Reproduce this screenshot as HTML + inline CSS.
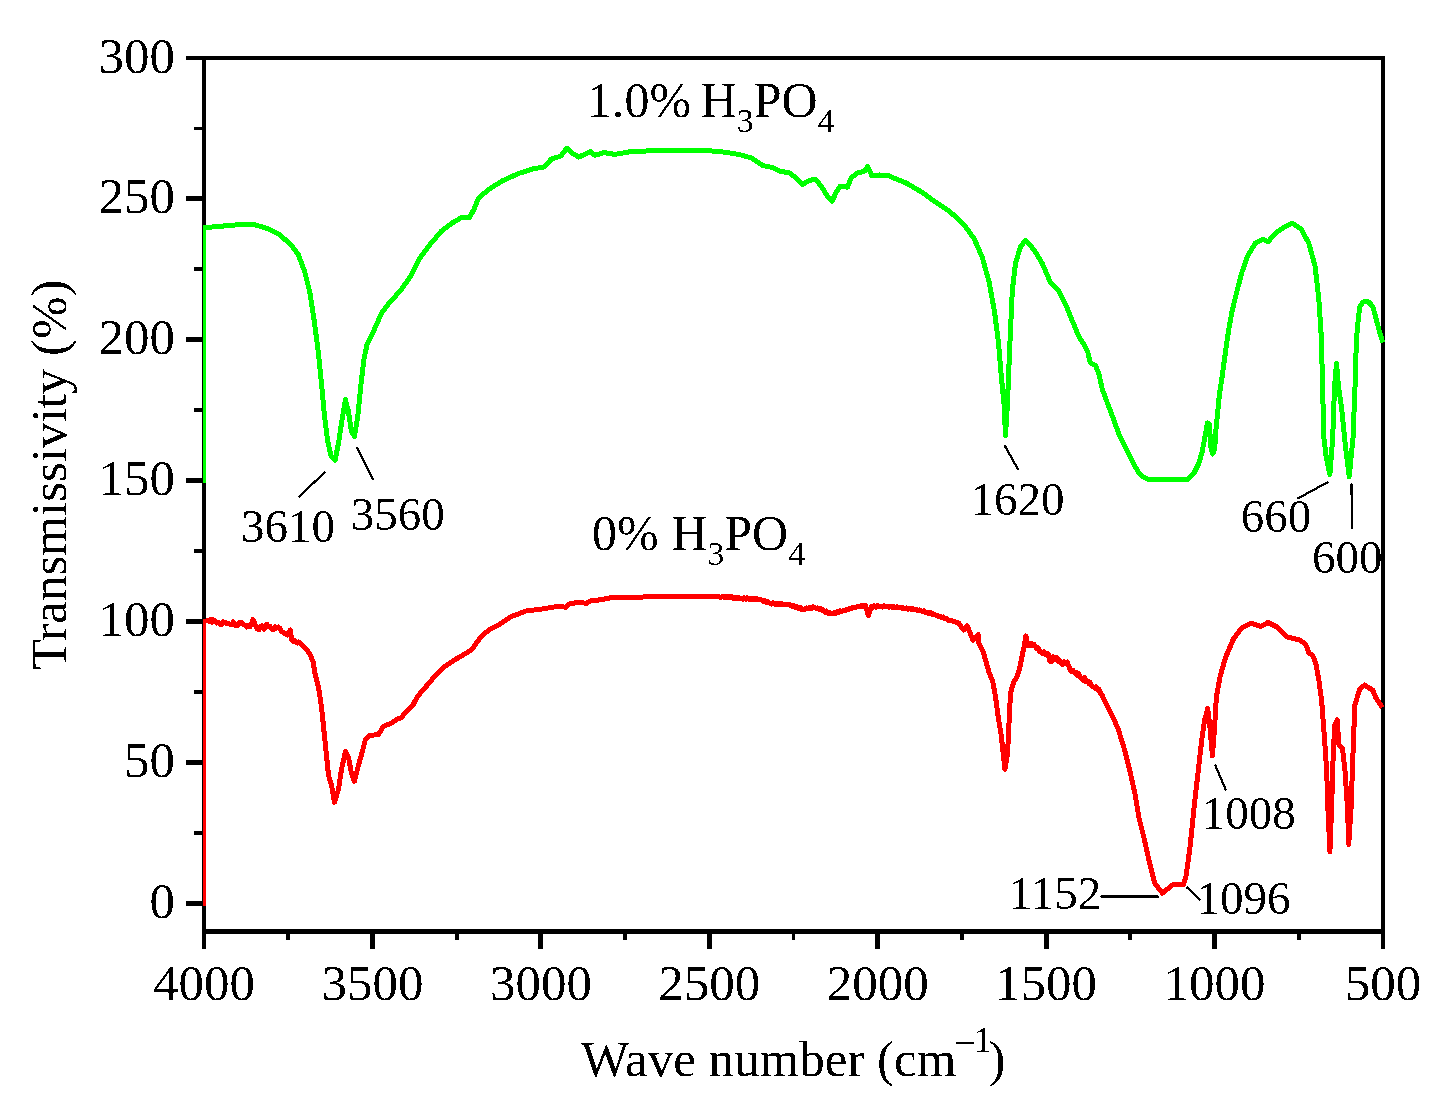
<!DOCTYPE html>
<html><head><meta charset="utf-8"><style>
html,body{margin:0;padding:0;background:#fff;}
svg{display:block;}
text{font-family:"Liberation Serif",serif;fill:#000;}
.t50{font-size:51px;}
.t50l{font-size:50px;}
.t46{font-size:47px;}
</style></head><body>
<svg width="1440" height="1104" viewBox="0 0 1440 1104">
<defs><filter id="bin" x="0" y="0" width="100%" height="100%" filterUnits="userSpaceOnUse"><feComponentTransfer><feFuncA type="discrete" tableValues="0 1"/></feComponentTransfer></filter></defs><g filter="url(#bin)"><rect x="204" y="58" width="1179" height="873" fill="none" stroke="#000" stroke-width="4"/><line x1="202" y1="931.5" x2="1385" y2="931.5" stroke="#000" stroke-width="5"/><line x1="186" y1="903.5" x2="204" y2="903.5" stroke="#000" stroke-width="5"/><text x="175" y="918.0" text-anchor="end" class="t50">0</text><line x1="186" y1="762.6" x2="204" y2="762.6" stroke="#000" stroke-width="5"/><text x="175" y="777.1" text-anchor="end" class="t50">50</text><line x1="186" y1="621.7" x2="204" y2="621.7" stroke="#000" stroke-width="5"/><text x="175" y="636.2" text-anchor="end" class="t50">100</text><line x1="186" y1="480.8" x2="204" y2="480.8" stroke="#000" stroke-width="5"/><text x="175" y="495.3" text-anchor="end" class="t50">150</text><line x1="186" y1="339.8" x2="204" y2="339.8" stroke="#000" stroke-width="5"/><text x="175" y="354.3" text-anchor="end" class="t50">200</text><line x1="186" y1="198.9" x2="204" y2="198.9" stroke="#000" stroke-width="5"/><text x="175" y="213.4" text-anchor="end" class="t50">250</text><line x1="186" y1="58.0" x2="204" y2="58.0" stroke="#000" stroke-width="5"/><text x="175" y="72.5" text-anchor="end" class="t50">300</text><line x1="194" y1="833.0" x2="204" y2="833.0" stroke="#000" stroke-width="4"/><line x1="194" y1="692.1" x2="204" y2="692.1" stroke="#000" stroke-width="4"/><line x1="194" y1="551.2" x2="204" y2="551.2" stroke="#000" stroke-width="4"/><line x1="194" y1="410.3" x2="204" y2="410.3" stroke="#000" stroke-width="4"/><line x1="194" y1="269.4" x2="204" y2="269.4" stroke="#000" stroke-width="4"/><line x1="194" y1="128.5" x2="204" y2="128.5" stroke="#000" stroke-width="4"/><line x1="204.0" y1="931" x2="204.0" y2="949" stroke="#000" stroke-width="5"/><text x="204.0" y="1000" text-anchor="middle" class="t50">4000</text><line x1="372.4" y1="931" x2="372.4" y2="949" stroke="#000" stroke-width="5"/><text x="372.4" y="1000" text-anchor="middle" class="t50">3500</text><line x1="540.9" y1="931" x2="540.9" y2="949" stroke="#000" stroke-width="5"/><text x="540.9" y="1000" text-anchor="middle" class="t50">3000</text><line x1="709.3" y1="931" x2="709.3" y2="949" stroke="#000" stroke-width="5"/><text x="709.3" y="1000" text-anchor="middle" class="t50">2500</text><line x1="877.7" y1="931" x2="877.7" y2="949" stroke="#000" stroke-width="5"/><text x="877.7" y="1000" text-anchor="middle" class="t50">2000</text><line x1="1046.1" y1="931" x2="1046.1" y2="949" stroke="#000" stroke-width="5"/><text x="1046.1" y="1000" text-anchor="middle" class="t50">1500</text><line x1="1214.6" y1="931" x2="1214.6" y2="949" stroke="#000" stroke-width="5"/><text x="1214.6" y="1000" text-anchor="middle" class="t50">1000</text><line x1="1383.0" y1="931" x2="1383.0" y2="949" stroke="#000" stroke-width="5"/><text x="1383.0" y="1000" text-anchor="middle" class="t50">500</text><line x1="288.2" y1="931" x2="288.2" y2="940" stroke="#000" stroke-width="4"/><line x1="456.6" y1="931" x2="456.6" y2="940" stroke="#000" stroke-width="4"/><line x1="625.1" y1="931" x2="625.1" y2="940" stroke="#000" stroke-width="4"/><line x1="793.5" y1="931" x2="793.5" y2="940" stroke="#000" stroke-width="4"/><line x1="961.9" y1="931" x2="961.9" y2="940" stroke="#000" stroke-width="4"/><line x1="1130.4" y1="931" x2="1130.4" y2="940" stroke="#000" stroke-width="4"/><line x1="1298.8" y1="931" x2="1298.8" y2="940" stroke="#000" stroke-width="4"/><text x="581" y="1075.5" class="t50">Wave number (cm<tspan dy="-24" font-size="35">&#8211;1</tspan><tspan dy="24" dx="-3">)</tspan></text><text transform="translate(66,670) rotate(-90)" class="t50">Transmissivity (%)</text><text x="587" y="117" class="t50l">1.0%<tspan dx="-3"> H</tspan><tspan dy="15" font-size="34">3</tspan><tspan dy="-15">PO</tspan><tspan dy="15" font-size="34">4</tspan></text><text x="592" y="550" class="t50l">0% H<tspan dy="15" font-size="34">3</tspan><tspan dy="-15">PO</tspan><tspan dy="15" font-size="34">4</tspan></text><text x="241" y="541.5" class="t46">3610</text><text x="350.7" y="530" class="t46">3560</text><text x="970.5" y="515" class="t46">1620</text><text x="1240.7" y="532" class="t46">660</text><text x="1312" y="572.5" class="t46">600</text><text x="1201.8" y="829" class="t46">1008</text><text x="1009" y="909" class="t46">1152</text><text x="1196.5" y="914" class="t46">1096</text><line x1="298.4" y1="497.2" x2="325.5" y2="471.6" stroke="#000" stroke-width="2.2"/><line x1="356.8" y1="447.3" x2="373.3" y2="480.1" stroke="#000" stroke-width="2.2"/><line x1="1004.6" y1="445.4" x2="1018.2" y2="469.8" stroke="#000" stroke-width="2.2"/><line x1="1297.3" y1="498.7" x2="1328.5" y2="481.7" stroke="#000" stroke-width="2.2"/><line x1="1351.5" y1="483.5" x2="1352" y2="528.6" stroke="#000" stroke-width="2.2"/><line x1="1215" y1="764.6" x2="1226" y2="790.4" stroke="#000" stroke-width="2.2"/><line x1="1100.4" y1="896.7" x2="1158.75" y2="896.7" stroke="#000" stroke-width="2.2"/><line x1="1186.5" y1="886.9" x2="1200.4" y2="900.4" stroke="#000" stroke-width="2.2"/></g>
<clipPath id="pc"><rect x="203" y="0" width="1182" height="1104"/></clipPath><path clip-path="url(#pc)" d="M203.3,906.0 L203.3,621.2 L208.3,620.8 L209.6,621.4 L211.0,619.4 L212.3,622.1 L213.7,620.0 L215.0,620.8 L216.7,623.0 L218.3,622.1 L220.0,624.2 L221.7,624.8 L223.3,621.7 L225.0,622.5 L226.7,623.7 L228.3,623.1 L230.0,624.2 L231.7,624.4 L233.3,621.7 L235.8,625.8 L237.3,625.9 L238.8,622.8 L240.2,623.8 L241.7,622.5 L243.3,624.7 L245.0,625.0 L246.7,626.9 L248.3,625.4 L250.0,626.7 L251.4,624.7 L252.9,619.6 L255.0,624.2 L257.5,629.2 L258.9,629.6 L260.3,626.4 L261.7,625.8 L264.2,629.2 L266.7,624.2 L268.4,626.4 L270.0,626.4 L271.7,629.2 L273.4,629.5 L275.0,626.7 L276.7,628.1 L278.3,627.0 L280.0,628.3 L281.6,631.4 L283.3,632.5 L284.7,633.8 L286.1,633.4 L287.5,635.0 L288.9,633.5 L290.4,630.0 L291.7,640.0 L293.1,641.6 L294.4,640.4 L295.8,641.7 L297.2,643.0 L298.6,642.0 L300.0,643.3 L303.3,646.7 L307.5,650.8 L310.8,655.8 L313.3,662.5 L314.6,671.7 L318.6,687.7 L321.6,707.6 L323.6,727.5 L326.5,755.4 L328.5,775.4 L331.5,785.3 L334.5,802.3 L338.5,789.3 L341.5,769.4 L345.5,751.5 L348.5,757.4 L351.5,773.4 L354.4,781.3 L358.4,765.4 L362.4,751.5 L365.4,739.5 L369.4,735.5 L378.4,734.5 L383.3,726.5 L392.3,722.6 L396.3,719.6 L401.3,717.6 L407.2,710.6 L413.2,704.6 L417.5,696.3 L425.0,687.8 L434.4,676.6 L443.8,667.2 L455.0,659.7 L466.3,653.1 L471.9,649.4 L481.3,636.3 L490.6,628.8 L500.0,624.1 L511.3,616.6 L526.3,610.9 L541.3,609.1 L558.1,606.3 L565.6,607.2 L569.4,604.0 L578.8,602.1 L586.3,603.4 L590.0,601.0 L601.3,599.7 L610.6,597.8 L635.0,597.3 L657.5,596.5 L680.0,596.5 L718.9,596.7 L720.5,597.4 L722.1,596.5 L723.7,597.3 L725.2,596.3 L726.8,597.9 L728.4,596.7 L730.0,597.8 L731.6,596.7 L733.2,598.5 L734.8,597.4 L736.3,598.4 L737.9,597.3 L739.5,598.8 L741.1,598.2 L742.6,599.2 L744.2,597.9 L745.7,599.3 L747.3,597.9 L748.8,599.2 L750.3,598.2 L751.9,599.8 L753.4,598.3 L754.9,599.8 L756.5,598.6 L758.0,599.7 L759.6,599.1 L761.1,599.6 L762.9,601.1 L764.7,600.5 L766.4,602.2 L768.2,601.9 L770.0,603.3 L771.5,604.1 L773.1,602.9 L774.6,604.2 L776.2,603.2 L777.7,604.5 L779.2,603.3 L780.8,604.8 L782.3,603.8 L783.8,605.0 L785.4,604.2 L786.9,605.0 L788.5,604.1 L790.0,604.9 L791.7,606.3 L793.3,605.4 L795.0,607.1 L796.6,606.7 L798.3,608.2 L800.0,607.3 L801.6,609.5 L803.3,609.3 L804.9,609.6 L806.5,607.9 L808.1,608.8 L809.6,607.4 L811.2,608.6 L812.8,606.8 L814.4,607.1 L815.9,608.3 L817.4,607.9 L819.0,609.5 L820.5,608.7 L822.0,610.4 L823.5,610.0 L825.0,612.2 L826.5,611.1 L828.1,613.3 L829.6,612.4 L831.1,613.8 L832.6,614.0 L834.1,612.4 L835.7,613.2 L837.2,611.9 L838.7,612.7 L840.2,610.8 L841.8,611.5 L843.3,610.7 L844.9,610.8 L846.5,609.1 L848.1,609.7 L849.6,608.2 L851.2,608.7 L852.8,607.0 L854.4,607.1 L856.0,607.5 L857.6,606.1 L859.2,606.7 L860.8,605.8 L862.4,606.4 L864.0,605.2 L865.6,605.6 L868.4,615.6 L871.1,606.7 L872.8,607.4 L874.4,605.8 L876.1,607.2 L877.8,605.6 L879.4,606.7 L881.1,606.2 L882.7,607.1 L884.3,605.7 L885.9,606.9 L887.4,606.4 L889.0,607.1 L890.6,606.1 L892.2,607.4 L893.8,606.8 L895.4,607.9 L897.0,606.9 L898.5,607.8 L900.1,607.2 L901.7,608.3 L903.3,607.8 L904.9,608.4 L906.5,607.9 L908.2,609.3 L909.8,608.3 L911.4,609.6 L913.0,608.8 L914.6,609.9 L916.2,609.4 L917.9,610.7 L919.5,610.0 L921.1,610.7 L922.7,611.5 L924.2,610.7 L925.8,612.6 L927.3,612.1 L928.9,613.6 L930.5,612.6 L932.0,614.1 L933.6,613.9 L935.1,615.0 L936.7,615.1 L938.4,616.4 L940.0,616.0 L941.7,617.7 L943.4,616.9 L945.0,618.8 L946.7,618.4 L948.3,620.3 L950.0,620.0 L958.9,623.3 L963.6,630.1 L967.2,625.8 L970.1,633.0 L973.0,640.3 L978.1,634.5 L978.8,643.2 L983.2,651.9 L986.1,662.0 L989.0,672.2 L992.6,680.9 L995.5,696.8 L998.4,718.6 L1001.3,735.9 L1003.5,756.2 L1004.9,769.3 L1007.1,756.2 L1008.6,735.9 L1009.3,714.2 L1010.7,692.5 L1013.6,682.3 L1017.2,676.5 L1020.1,666.4 L1022.3,654.8 L1024.5,644.6 L1025.9,635.9 L1027.4,645.4 L1029.2,645.8 L1031.0,643.2 L1032.5,645.4 L1033.9,644.3 L1035.4,646.1 L1036.9,648.9 L1038.3,648.0 L1039.8,651.7 L1041.2,651.9 L1042.6,653.4 L1044.1,651.7 L1045.5,654.3 L1047.0,653.3 L1048.4,654.8 L1049.9,661.3 L1051.3,661.6 L1052.8,656.8 L1054.2,657.0 L1055.6,659.2 L1057.1,658.0 L1058.5,661.8 L1060.0,660.5 L1061.4,663.5 L1062.9,664.6 L1064.3,661.7 L1065.8,663.2 L1067.2,662.0 L1068.7,666.2 L1070.1,669.3 L1071.5,671.7 L1073.0,670.2 L1074.5,673.0 L1075.9,672.2 L1077.4,675.4 L1078.8,673.8 L1080.2,677.3 L1081.7,678.0 L1083.2,680.4 L1084.6,677.7 L1086.0,681.6 L1087.5,680.9 L1089.0,683.5 L1090.4,682.8 L1091.8,686.2 L1093.3,686.7 L1094.8,688.2 L1096.2,686.8 L1097.6,690.0 L1099.1,689.6 L1100.6,693.3 L1102.0,694.7 L1103.5,698.3 L1107.8,707.0 L1112.2,715.7 L1117.9,728.2 L1124.4,749.2 L1129.7,770.2 L1135.0,793.9 L1138.9,817.5 L1144.1,838.5 L1149.4,862.2 L1154.7,883.2 L1162.5,893.2 L1173.0,884.5 L1183.5,884.5 L1186.2,875.3 L1190.1,846.4 L1194.1,807.0 L1198.0,772.9 L1201.9,738.7 L1204.6,720.3 L1207.7,708.5 L1209.8,725.6 L1212.4,755.8 L1214.5,728.2 L1216.4,696.7 L1220.3,675.7 L1225.6,657.3 L1233.5,638.9 L1241.3,628.4 L1250.9,623.2 L1260.7,626.4 L1268.0,622.5 L1277.8,627.4 L1286.3,636.7 L1296.1,639.1 L1300.0,640.0 L1305.8,644.5 L1308.7,652.5 L1313.0,656.0 L1315.9,663.8 L1318.8,679.7 L1321.7,701.4 L1324.2,734.5 L1326.7,771.1 L1327.9,807.8 L1329.9,851.8 L1331.6,807.8 L1333.3,751.6 L1334.8,724.7 L1337.2,719.8 L1338.9,744.3 L1342.6,749.1 L1345.0,771.1 L1347.5,807.8 L1348.7,844.5 L1351.1,807.8 L1352.8,758.9 L1354.8,705.1 L1359.7,689.5 L1364.6,685.0 L1373.1,690.5 L1375.6,697.5 L1382.5,707.5" fill="none" stroke="#ff0000" stroke-width="5" stroke-linejoin="round" shape-rendering="crispEdges"/><path clip-path="url(#pc)" d="M203.5,483.0 L203.5,227.7 L223.6,226.0 L240.0,224.6 L254.2,224.6 L268.3,228.8 L280.0,234.7 L292.1,246.3 L298.3,254.6 L304.6,271.3 L309.8,292.1 L314.0,319.2 L318.1,350.4 L321.3,381.7 L324.4,415.0 L327.5,440.0 L331.0,455.8 L335.2,460.3 L339.0,440.0 L342.1,419.2 L345.4,399.6 L348.3,410.8 L351.5,431.7 L354.5,436.4 L357.7,417.1 L360.8,385.8 L364.0,358.8 L367.1,344.2 L373.3,331.7 L381.7,312.9 L387.9,304.6 L390.8,301.5 L401.7,288.9 L410.7,276.3 L419.7,258.2 L430.6,243.8 L441.4,231.1 L452.2,223.0 L461.3,217.6 L469.4,217.6 L473.9,209.5 L478.4,198.6 L488.3,189.6 L502.8,180.6 L519.0,173.3 L533.5,168.8 L544.3,167.0 L551.5,158.9 L560.6,156.2 L566.9,148.1 L571.4,152.6 L578.6,157.1 L590.4,151.7 L594.9,155.3 L603.9,152.6 L614.7,154.4 L632.8,151.3 L663.8,150.6 L705.0,150.3 L723.8,152.1 L738.8,154.4 L751.9,158.1 L763.1,165.6 L772.5,167.5 L780.0,171.3 L789.4,172.8 L796.9,178.8 L802.5,184.4 L810.0,180.3 L815.6,179.1 L821.3,186.3 L826.9,195.6 L832.1,201.3 L836.3,191.9 L840.0,186.3 L847.5,187.2 L851.3,177.8 L856.9,173.1 L864.4,171.3 L867.8,166.6 L871.9,175.9 L879.4,175.0 L888.8,175.9 L906.3,183.1 L922.6,192.6 L933.5,200.8 L949.8,211.6 L963.4,223.9 L974.2,238.8 L982.4,257.8 L989.2,282.3 L994.6,312.2 L998.7,344.8 L1001.4,377.4 L1004.1,404.6 L1005.5,435.8 L1007.4,404.6 L1009.6,350.2 L1012.3,290.4 L1015.5,263.3 L1020.4,247.0 L1025.3,240.2 L1034.0,249.7 L1042.2,263.3 L1050.3,282.3 L1058.5,290.4 L1066.6,306.7 L1072.1,320.3 L1078.9,336.6 L1084.3,344.8 L1087.7,351.6 L1090.3,362.8 L1095.5,365.4 L1098.9,374.0 L1102.4,389.5 L1107.5,403.3 L1112.7,417.0 L1119.6,436.0 L1126.5,449.7 L1133.4,463.5 L1138.5,472.1 L1143.7,477.3 L1149.7,479.9 L1186.7,479.9 L1193.6,473.8 L1198.8,463.5 L1202.2,451.5 L1204.8,437.7 L1207.4,423.0 L1209.4,423.9 L1210.8,446.3 L1212.5,454.0 L1214.6,449.7 L1216.0,429.1 L1217.7,411.9 L1219.4,394.7 L1222.0,377.5 L1224.6,358.5 L1227.2,339.6 L1229.7,324.1 L1232.3,310.3 L1235.1,298.7 L1241.5,273.4 L1247.8,255.6 L1255.4,243.0 L1263.0,239.2 L1268.1,241.7 L1275.7,232.8 L1283.3,227.7 L1292.2,223.2 L1301.0,229.0 L1308.7,243.0 L1315.0,265.8 L1318.8,298.7 L1321.3,336.7 L1322.6,387.4 L1323.9,438.1 L1326.4,458.4 L1329.9,474.4 L1332.7,438.1 L1334.5,387.4 L1336.5,363.4 L1338.6,387.4 L1341.6,407.7 L1345.4,445.7 L1349.2,476.6 L1353.0,438.1 L1355.3,380.0 L1355.6,361.5 L1356.9,334.3 L1358.5,316.2 L1360.0,306.5 L1362.5,302.5 L1365.3,301.0 L1368.5,302.0 L1371.0,304.5 L1373.0,307.2 L1376.6,320.8 L1380.2,334.3 L1382.8,342.5" fill="none" stroke="#00ff00" stroke-width="5" stroke-linejoin="round" shape-rendering="crispEdges"/>
</svg>
</body></html>
